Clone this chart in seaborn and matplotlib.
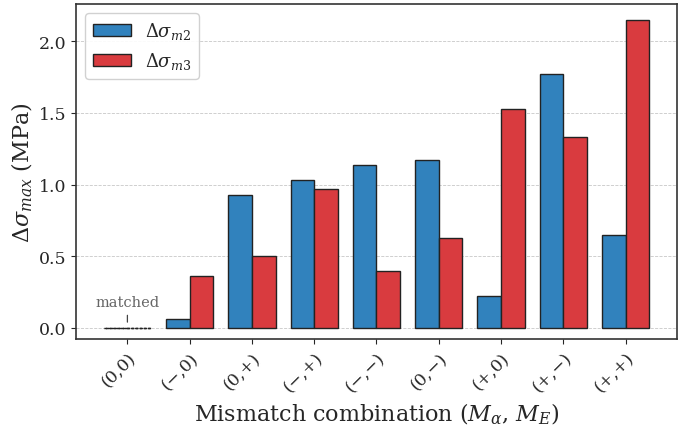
import matplotlib
matplotlib.use("Agg")
import matplotlib.pyplot as plt
import seaborn as sns
import pandas as pd

combos = ["(0,0)", "(\u2212,0)", "(0,+)", "(\u2212,+)", "(\u2212,\u2212)",
          "(0,\u2212)", "(+,0)", "(+,\u2212)", "(+,+)"]
d_sigma_m2 = [0.0, 0.06, 0.93, 1.03, 1.14, 1.17, 0.22, 1.77, 0.65]
d_sigma_m3 = [0.0, 0.36, 0.50, 0.97, 0.40, 0.63, 1.53, 1.33, 2.15]
series_names = [r"$\Delta\sigma_{m2}$", r"$\Delta\sigma_{m3}$"]
colors = ["#3182bd", "#d93b3f"]

df = pd.DataFrame({
    "combo": combos * 2,
    "value": d_sigma_m2 + d_sigma_m3,
    "series": [series_names[0]] * len(combos) + [series_names[1]] * len(combos),
})

sns.set_style("ticks")
plt.rcParams["font.family"] = ["DejaVu Serif"]
plt.rcParams["mathtext.fontset"] = "dejavuserif"

fig, ax = plt.subplots(figsize=(6.94, 4.27), dpi=100)
fig.subplots_adjust(left=0.11, right=0.975, top=0.988, bottom=0.203)

sns.barplot(
    data=df,
    x="combo",
    y="value",
    hue="series",
    order=combos,
    hue_order=series_names,
    palette=colors,
    width=0.76,
    edgecolor="#222222",
    linewidth=1.0,
    saturation=1,
    ax=ax,
)

ax.legend(loc="upper left", fontsize=13, frameon=True, framealpha=0.9,
          handlelength=2.1)

# zero-height bars for the matched case -> dotted baseline
for p in ax.patches:
    if p.get_height() == 0:
        p.set_linestyle((0, (2, 1)))

ax.annotate(
    "matched",
    xy=(0, 0.04),
    xytext=(0, 0.13),
    ha="center",
    va="bottom",
    fontsize=10.5,
    color="#666666",
    arrowprops=dict(arrowstyle="-", color="#444444", lw=0.9, shrinkA=2, shrinkB=0),
)

ax.set_xlim(-0.82, 8.82)
ax.set_ylim(-0.08, 2.26)
ax.set_axisbelow(True)
ax.yaxis.grid(True, linestyle="--", color="#c8c8c8", linewidth=0.6)

ax.set_xlabel(r"Mismatch combination ($M_\alpha$, $M_E$)", fontsize=16)
ax.set_ylabel(r"$\Delta\sigma_{max}$ (MPa)", fontsize=16, labelpad=3)
ax.tick_params(axis="both", labelsize=12.5)
plt.setp(ax.get_xticklabels(), rotation=45, ha="right", rotation_mode="anchor")

for s in ax.spines.values():
    s.set_color("#333333")
    s.set_linewidth(1.2)

plt.savefig("out.png", dpi=100)
